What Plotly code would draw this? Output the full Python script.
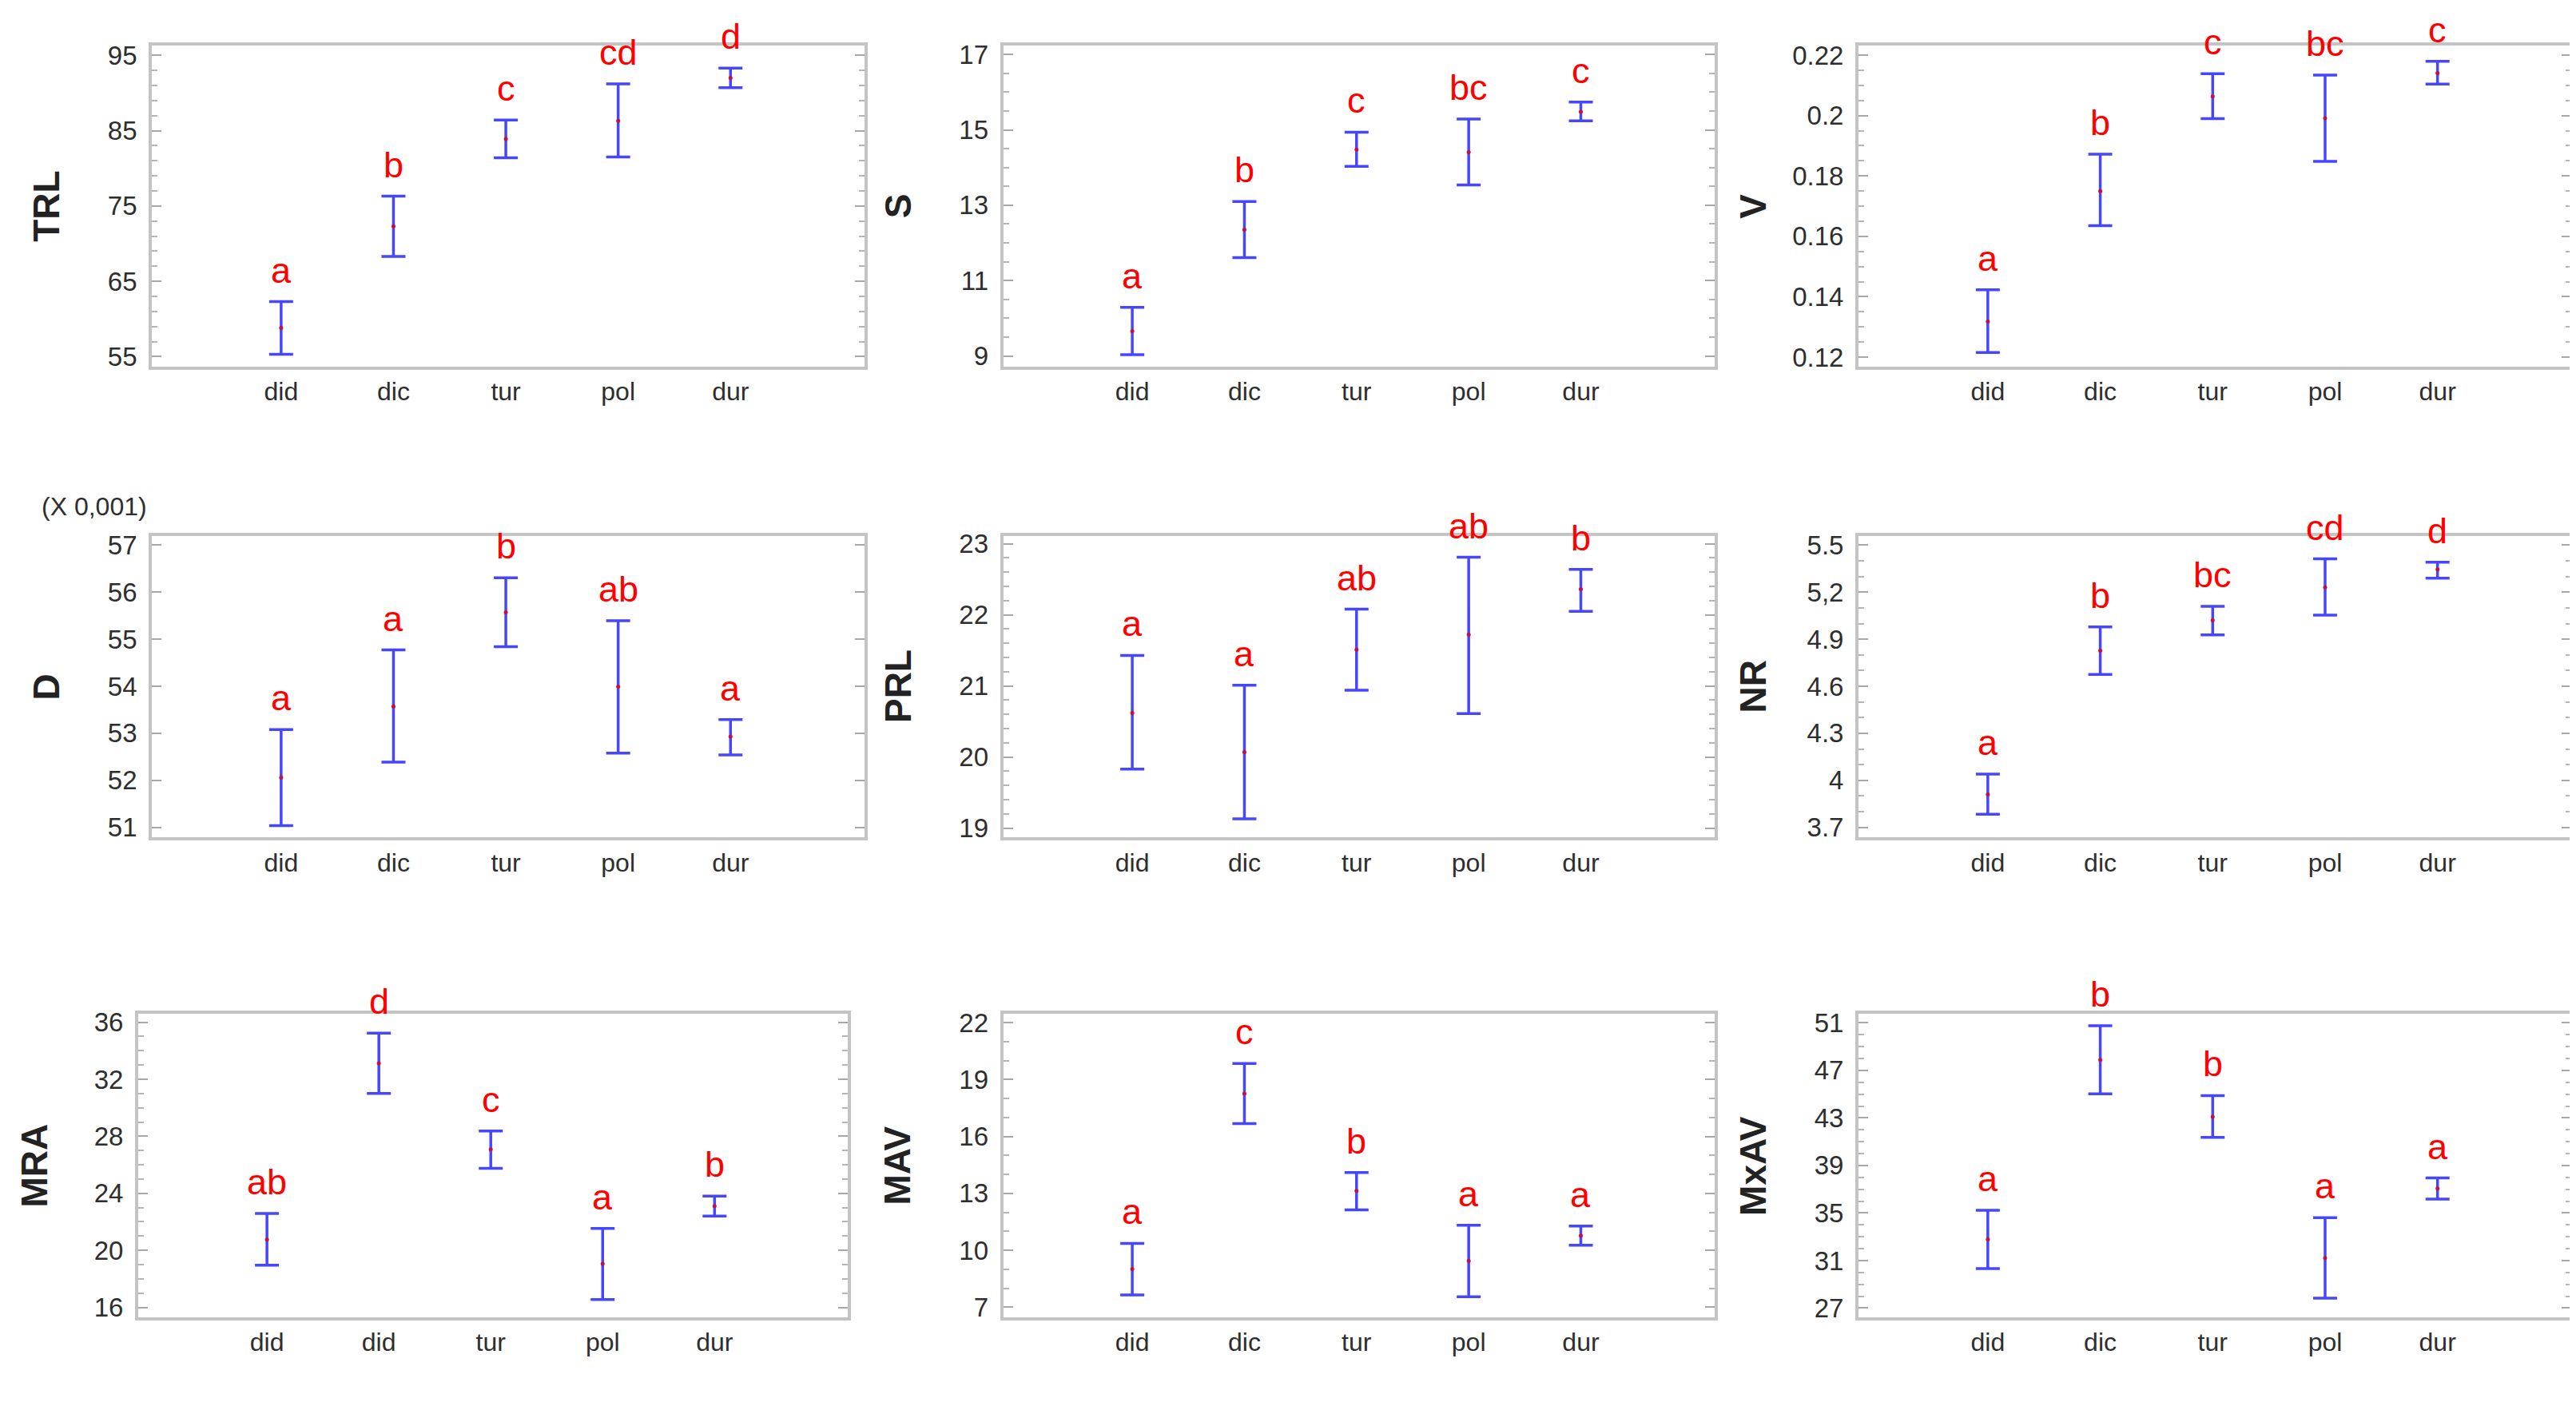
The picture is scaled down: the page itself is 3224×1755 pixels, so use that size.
import plotly.graph_objects as go

# groups on the x axis (MRA panel repeats "did" as in the source figure)
groups = ["did", "dic", "tur", "pol", "dur"]
groups_mra = ["did", "did", "tur", "pol", "dur"]

# means and interval limits
trl_mean = [58.8, 72.3, 83.9, 86.3, 92.0]
trl_low = [55.3, 68.3, 81.4, 81.5, 90.7]
trl_high = [62.3, 76.3, 86.4, 91.2, 93.3]
trl_letters = ["a", "b", "c", "cd", "d"]

s_mean = [9.66, 12.35, 14.48, 14.41, 15.48]
s_low = [9.03, 11.61, 14.03, 13.54, 15.24]
s_high = [10.29, 13.10, 14.94, 15.29, 15.74]
s_letters = ["a", "b", "c", "bc", "c"]

v_mean = [0.1318, 0.1750, 0.2063, 0.1991, 0.2141]
v_low = [0.1215, 0.1635, 0.1990, 0.1848, 0.2104]
v_high = [0.1423, 0.1872, 0.2139, 0.2134, 0.2180]
v_letters = ["a", "b", "c", "bc", "c"]

d_mean = [52.06, 53.57, 55.57, 53.99, 52.93]
d_low = [51.04, 52.39, 54.84, 52.58, 52.54]
d_high = [53.08, 54.77, 56.30, 55.39, 53.29]
d_letters = ["a", "a", "b", "ab", "a"]

prl_mean = [20.62, 20.07, 21.51, 21.72, 22.36]
prl_low = [19.83, 19.13, 20.94, 20.61, 22.05]
prl_high = [21.43, 21.01, 22.08, 22.81, 22.64]
prl_letters = ["a", "a", "ab", "ab", "b"]

nr_mean = [3.910, 4.827, 5.021, 5.231, 5.345]
nr_low = [3.784, 4.676, 4.928, 5.054, 5.290]
nr_high = [4.040, 4.978, 5.110, 5.413, 5.391]
nr_letters = ["a", "b", "bc", "cd", "d"]

mra_mean = [20.75, 33.12, 27.08, 19.05, 23.11]
mra_low = [18.96, 31.01, 25.75, 16.55, 22.41]
mra_high = [22.59, 35.24, 28.37, 21.54, 23.81]
mra_letters = ["ab", "d", "c", "a", "b"]

mav_mean = [9.02, 18.25, 13.13, 9.44, 10.78]
mav_low = [7.65, 16.68, 12.13, 7.56, 10.27]
mav_high = [10.37, 19.84, 14.10, 11.32, 11.28]
mav_letters = ["a", "c", "b", "a", "a"]

mxav_mean = [32.78, 47.88, 43.09, 31.22, 37.06]
mxav_low = [30.33, 45.03, 41.36, 27.84, 36.17]
mxav_high = [35.23, 50.76, 44.88, 34.61, 37.95]
mxav_letters = ["a", "b", "b", "a", "a"]

# y tick labels
trl_ticks = ["55", "65", "75", "85", "95"]
s_ticks = ["9", "11", "13", "15", "17"]
v_ticks = ["0.12", "0.14", "0.16", "0.18", "0.2", "0.22"]
d_ticks = ["51", "52", "53", "54", "55", "56", "57"]
prl_ticks = ["19", "20", "21", "22", "23"]
nr_ticks = ["3.7", "4", "4.3", "4.6", "4.9", "5,2", "5.5"]
mra_ticks = ["16", "20", "24", "28", "32", "36"]
mav_ticks = ["7", "10", "13", "16", "19", "22"]
mxav_ticks = ["27", "31", "35", "39", "43", "47", "51"]

NARROW = "Liberation Sans Narrow, Arial Narrow, Liberation Sans, Arial, sans-serif"
BOLD = "Liberation Sans, Arial, sans-serif"
BLUE = "#4646ff"
BOX = "#c4c4c4"

col_x = [[0.0565, 0.333], [0.387, 0.663], [0.719, 0.9957]]
row_y = [[0.746, 0.977], [0.407, 0.624], [0.0615, 0.280]]
title_x = [0.0155, 0.346, 0.678]

panels = [
    # name, x labels, mean, low, high, letters, tick text, y range, minor dtick
    ("TRL", groups, trl_mean, trl_low, trl_high, trl_letters, trl_ticks, [53.7, 96.3], 2),
    ("S", groups, s_mean, s_low, s_high, s_letters, s_ticks, [8.72, 17.24], 0.5),
    ("V", groups, v_mean, v_low, v_high, v_letters, v_ticks, [0.1169, 0.2232], 0.005),
    ("D", groups, d_mean, d_low, d_high, d_letters, d_ticks, [50.79, 57.19], None),
    ("PRL", groups, prl_mean, prl_low, prl_high, prl_letters, prl_ticks, [18.87, 23.11], 0.2),
    ("NR", groups, nr_mean, nr_low, nr_high, nr_letters, nr_ticks, [3.636, 5.559], 0.1),
    ("MRA", groups_mra, mra_mean, mra_low, mra_high, mra_letters, mra_ticks, [15.3, 36.59], 1),
    ("MAV", groups, mav_mean, mav_low, mav_high, mav_letters, mav_ticks, [6.47, 22.46], 1),
    ("MxAV", groups, mxav_mean, mxav_low, mxav_high, mxav_letters, mxav_ticks, [26.22, 51.76], 1),
]

fig = go.Figure()
layout = {}
annotations = []

for k, (name, labels, mean, low, high, letters, ticks, yr, minor) in enumerate(panels):
    n = k + 1
    row, col = divmod(k, 3)
    xs = list(range(len(labels)))
    suffix = "" if n == 1 else str(n)

    fig.add_trace(go.Scatter(
        x=xs, y=mean, mode="markers",
        marker=dict(color="#c8103a", size=5),
        error_y=dict(type="data", symmetric=False,
                     array=[h - m for h, m in zip(high, mean)],
                     arrayminus=[m - l for m, l in zip(mean, low)],
                     color=BLUE, thickness=3.5, width=15),
        xaxis="x" + suffix, yaxis="y" + suffix, showlegend=False,
        hoverinfo="skip",
    ))

    xdom = col_x[col]
    if name == "MRA":
        xdom = [0.0512, 0.3266]

    layout["xaxis" + suffix] = dict(
        domain=xdom, anchor="y" + suffix, range=[-1.15, 5.19],
        tickvals=xs, ticktext=labels, ticks="", showgrid=False, zeroline=False,
        showline=True, linecolor=BOX, linewidth=4, mirror=True,
        tickfont=dict(family=NARROW, size=32, color="#2e2e2e"),
    )
    tickvals = [float(t.replace(",", ".")) for t in ticks]
    yax = dict(
        domain=row_y[row], anchor="x" + suffix, range=yr,
        tickvals=tickvals, ticktext=ticks, ticks="inside", ticklen=12,
        tickcolor="#a8a8a8", tickwidth=2, showgrid=False, zeroline=False,
        showline=True, linecolor=BOX, linewidth=4, mirror="allticks",
        ticklabelstandoff=8,
        tickfont=dict(family=NARROW, size=33, color="#2e2e2e"),
    )
    if minor:
        yax["minor"] = dict(tick0=tickvals[0], dtick=minor, ticks="inside",
                            ticklen=7, tickcolor="#b4b4b4", tickwidth=2)
    layout["yaxis" + suffix] = yax

    for i, (h, lt) in enumerate(zip(high, letters)):
        annotations.append(dict(
            x=i, y=h, xref="x" + suffix, yref="y" + suffix, text=lt,
            showarrow=False, yanchor="bottom", yshift=12,
            font=dict(family=NARROW, size=45, color="#ff0000"),
        ))

    tx = 0.011 if name == "MRA" else title_x[col]
    annotations.append(dict(
        x=tx, y=sum(row_y[row]) / 2, xref="paper", yref="paper", text="<b>%s</b>" % name,
        textangle=-90, showarrow=False, xanchor="center", yanchor="middle",
        font=dict(family=BOLD, size=46, color="#222222"),
    ))

annotations.append(dict(
    x=0.013, y=0.645, xref="paper", yref="paper", text="(X 0,001)",
    showarrow=False, xanchor="left", yanchor="middle",
    font=dict(family=NARROW, size=32, color="#2e2e2e"),
))

fig.update_layout(
    width=3224, height=1755,
    margin=dict(l=0, r=0, t=0, b=0),
    paper_bgcolor="white", plot_bgcolor="white",
    annotations=annotations,
    **layout,
)

fig.write_html("out.html")
